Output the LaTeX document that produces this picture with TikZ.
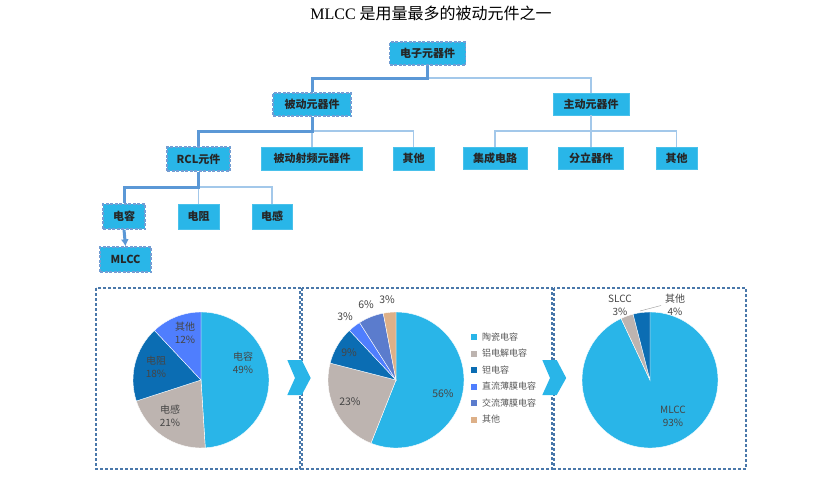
\documentclass[tikz,border=0pt]{standalone}
\usepackage{fontspec}
\setmainfont{Liberation Serif}
\newfontfamily\cjk{Noto Sans CJK SC}
\usetikzlibrary{arrows.meta}
\definecolor{boxc}{HTML}{29B6E8}
\definecolor{bordc}{HTML}{5A8CCB}
\definecolor{hlc}{HTML}{5B98D6}
\definecolor{thinc}{HTML}{A3C8EA}
\definecolor{pc}{HTML}{29B5E8}
\definecolor{pg}{HTML}{BDB4B0}
\definecolor{pd}{HTML}{0B6DB3}
\definecolor{pb}{HTML}{4F7EFE}
\definecolor{ps}{HTML}{5B7CCD}
\definecolor{pt}{HTML}{DDB088}
\definecolor{panelc}{HTML}{4A78AA}
\definecolor{lbl}{HTML}{454545}
\newcommand{\pieslice}[3]{\fill[#1, draw=white, line width=0.4pt] (0,0) -- (#2:68) arc[start angle=#2, end angle=#3, radius=68] -- cycle;}
\begin{document}
\begin{tikzpicture}[x=1pt,y=-1pt,
  box/.style={fill=boxc, draw=boxc!85!white, line width=0.6pt, font=\cjk\bfseries\fontsize{11}{13}\selectfont, text=black!85, inner sep=0pt},
  dbox/.style={box, draw=bordc!85!white, dash pattern=on 3pt off 1.5pt, line width=1.3pt},
  hlink/.style={draw=hlc, line width=3pt},
  tlink/.style={draw=thinc, line width=1.3pt},
  panel/.style={draw=panelc, line width=1.3pt, dash pattern=on 3pt off 2pt},
  chev/.style={fill=pc},
  plab/.style={font=\cjk\fontsize{10}{12.5}\selectfont, text=lbl, align=center, inner sep=0pt},
  plab2/.style={font=\cjk\fontsize{10.5}{12.5}\selectfont, text=lbl, inner sep=0pt},
  leg/.style={font=\cjk\fontsize{9}{11}\selectfont, text=black!65, anchor=west, inner sep=0pt},
  legm/.style={minimum size=6pt, inner sep=0pt}
]
\useasboundingbox (0,0) rectangle (832,477);
% title
\node (title) at (431,13) {\fontsize{16}{18}\selectfont MLCC {\cjk 是用量最多的被动元件之一}};

% boxes
\node[dbox, minimum width=76pt, minimum height=23pt] (e) at (427.5,53.5) {电子元器件};
\node[dbox, minimum width=78pt, minimum height=23pt] (bd) at (312,104.5) {被动元器件};
\node[box, minimum width=76pt, minimum height=22pt] (zd) at (591,104) {主动元器件};
\node[dbox, minimum width=63pt, minimum height=24pt] (rcl) at (198.5,159) {RCL元件};
\node[box, minimum width=101pt, minimum height=23pt] (rf) at (312,158.5) {被动射频元器件};
\node[box, minimum width=41pt, minimum height=23pt] (qt1) at (413.5,158.5) {其他};
\node[box, minimum width=64pt, minimum height=22pt] (jc) at (495,158) {集成电路};
\node[box, minimum width=65pt, minimum height=22pt] (fl) at (591,158) {分立器件};
\node[box, minimum width=41pt, minimum height=22pt] (qt2) at (676.5,158) {其他};
\node[dbox, minimum width=42pt, minimum height=25pt] (dr) at (124,216.5) {电容};
\node[box, minimum width=41pt, minimum height=25pt] (dz) at (198.5,216.5) {电阻};
\node[box, minimum width=40pt, minimum height=25pt] (dg) at (272,216.5) {电感};
\node[dbox, minimum width=51pt, minimum height=25pt] (mlcc) at (125.5,259.5) {MLCC};

% connectors
\coordinate (b1) at (427.5,78);
\coordinate (b2) at (312,131);
\coordinate (b3) at (591,131);
\coordinate (b4) at (198.5,187);
\draw[tlink] (b1) -| (zd.north);
\draw[tlink] (b2) -| (qt1.north);
\draw[tlink] (b2) -- (rf.north);
\draw[tlink] (zd.south) -- (b3) -- (fl.north);
\draw[tlink] (b3) -| (jc.north);
\draw[tlink] (b3) -| (qt2.north);
\draw[tlink] (b4) -| (dg.north);
\draw[tlink] (b4) -- (dz.north);
\draw[hlink] (e.south) -- (b1) -| (bd.north);
\draw[hlink] (bd.south) -- (b2) -| (rcl.north);
\draw[hlink] (rcl.south) -- (b4) -| (dr.north);
\draw[hlink, -{Latex[length=7pt,width=8pt]}] (dr.south) -- (mlcc.north);

% panels
\draw[panel] (96,288) rectangle (300,469);
\draw[panel] (302,288) rectangle (552,469);
\draw[panel] (554,288) rectangle (746,469);

% chevrons
\fill[chev] (287.3,360) -- (301.7,360) -- (310.7,378) -- (301.7,395) -- (287.3,395) -- (295,378) -- cycle;
\fill[chev] (542.3,360) -- (556.7,360) -- (566.2,378) -- (556.7,395) -- (542.3,395) -- (550,378) -- cycle;

% pie 1
\begin{scope}[shift={(201,380)}, yscale=-1]
\pieslice{pc}{90}{-86.4}
\pieslice{pg}{-86.4}{-162}
\pieslice{pd}{-162}{-226.8}
\pieslice{pb}{-226.8}{-270}
\end{scope}
\node[plab] (l1a) at (243,363) {电容\\49\%};
\node[plab] (l1b) at (170,416) {电感\\21\%};
\node[plab] (l1c) at (156,367) {电阻\\18\%};
\node[plab] (l1d) at (185,333) {其他\\12\%};

% pie 2
\begin{scope}[shift={(396,380)}, yscale=-1]
\pieslice{pc}{90}{-111.6}
\pieslice{pg}{-111.6}{-194.4}
\pieslice{pd}{-194.4}{-226.8}
\pieslice{pb}{-226.8}{-237.6}
\pieslice{ps}{-237.6}{-259.2}
\pieslice{pt}{-259.2}{-270}
\end{scope}
\node[plab2] (l2a) at (443,394) {56\%};
\node[plab2] (l2b) at (350,402) {23\%};
\node[plab2] (l2c) at (349,353) {9\%};
\node[plab2] (l2d) at (345,317) {3\%};
\node[plab2] (l2e) at (366,305) {6\%};
\node[plab2] (l2f) at (387,300) {3\%};

% legend
\node[legm, fill=pc] (m1) at (474,337) {};
\node[leg] (t1) at (482,337) {陶瓷电容};
\node[legm, fill=pg] (m2) at (474,353.5) {};
\node[leg] (t2) at (482,353.5) {铝电解电容};
\node[legm, fill=pd] (m3) at (474,370) {};
\node[leg] (t3) at (482,370) {钽电容};
\node[legm, fill=pb] (m4) at (474,386.5) {};
\node[leg] (t4) at (482,386.5) {直流薄膜电容};
\node[legm, fill=ps] (m5) at (474,403) {};
\node[leg] (t5) at (482,403) {交流薄膜电容};
\node[legm, fill=pt] (m6) at (474,419.5) {};
\node[leg] (t6) at (482,419.5) {其他};

% pie 3
\begin{scope}[shift={(650,380)}, yscale=-1]
\pieslice{pc}{90}{-244.8}
\pieslice{pg}{-244.8}{-255.6}
\pieslice{pd}{-255.6}{-270}
\end{scope}
\node[plab] (l3a) at (620,305.5) {SLCC\\3\%};
\node[plab] (l3b) at (675,305) {其他\\4\%};
\node[plab] (l3c) at (673,416.5) {MLCC\\93\%};
\coordinate (ld1) at (640,311);
\coordinate (ld2) at (661,305.5);
\draw[black!35, line width=0.5pt] (ld1) -- (ld2);
\end{tikzpicture}
\end{document}
